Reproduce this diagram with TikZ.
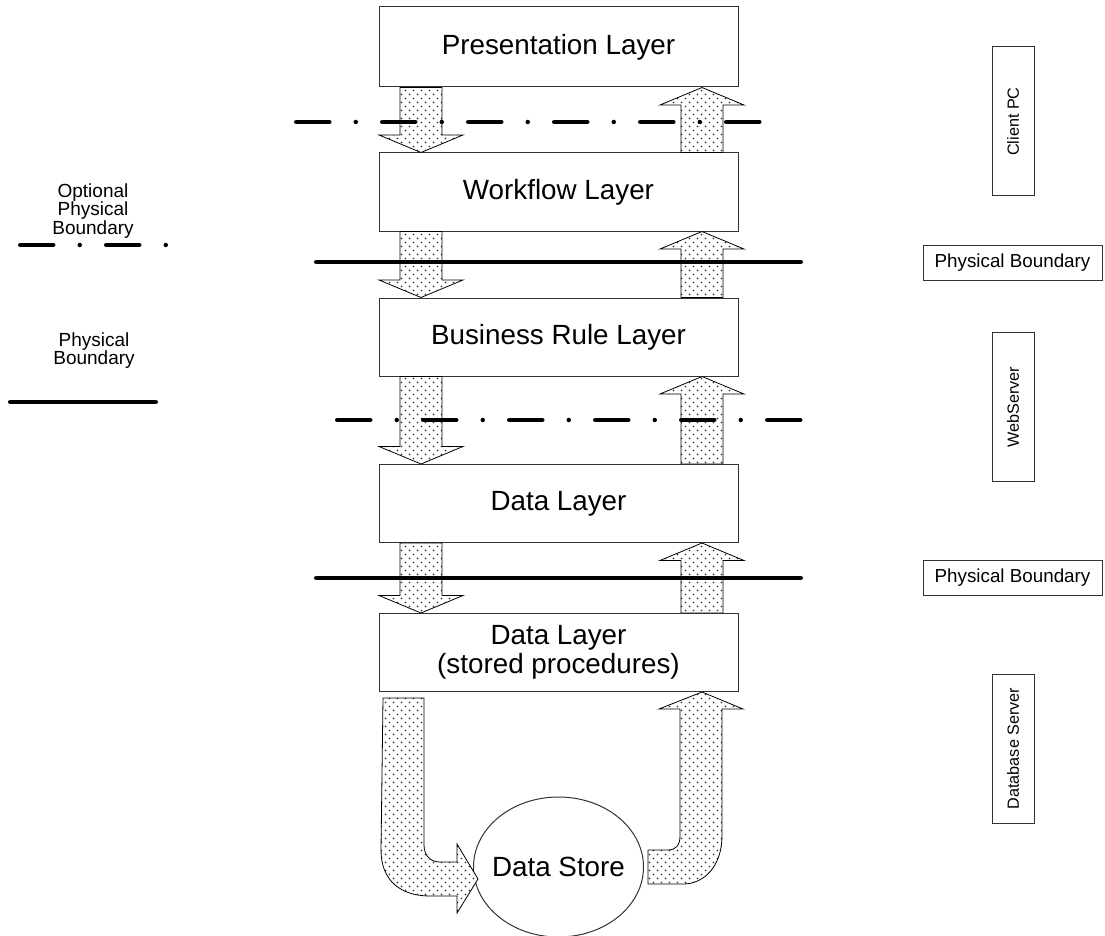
\documentclass[tikz,border=0pt]{standalone}
\usepackage{fontspec}
\setmainfont{Liberation Sans}
\usetikzlibrary{calc,patterns,shapes.geometric}

\pgfdeclarepatternformonly{bdots}{\pgfqpoint{0pt}{0pt}}{\pgfqpoint{7pt}{7pt}}{\pgfqpoint{8pt}{8pt}}{%
  \pgfpathcircle{\pgfqpoint{1.5pt}{1.5pt}}{0.85pt}%
  \pgfpathcircle{\pgfqpoint{5.5pt}{5.5pt}}{0.85pt}%
  \pgfusepath{fill}}

\newcommand{\blkdown}[2]{%
  \path[blk] ($(#1)+(-21,0)$) -- ($(#2)+(-21,-17.5)$) -- ($(#2)+(-42,-17.5)$) -- (#2)
    -- ($(#2)+(42,-17.5)$) -- ($(#2)+(21,-17.5)$) -- ($(#1)+(21,0)$) -- cycle;}
\newcommand{\blkup}[2]{%
  \path[blk] ($(#1)+(-21,0)$) -- ($(#2)+(-21,17.5)$) -- ($(#2)+(-42,17.5)$) -- (#2)
    -- ($(#2)+(42,17.5)$) -- ($(#2)+(21,17.5)$) -- ($(#1)+(21,0)$) -- cycle;}

\begin{document}
\begin{tikzpicture}[x=1pt,y=-1pt,
  layer/.style={draw=black!80, line width=1pt, minimum width=359pt, minimum height=78pt,
    inner sep=0pt, align=center, font=\fontsize{27.8}{30}\selectfont},
  side/.style={draw=black!80, line width=1pt, minimum width=149pt, minimum height=42pt,
    inner sep=0pt, rotate=90, font=\fontsize{16.2}{18}\selectfont},
  pbox/.style={draw=black!80, line width=1pt, minimum width=179pt, minimum height=35pt,
    inner sep=0pt, font=\fontsize{18.8}{20}\selectfont},
  legtext/.style={align=center, inner sep=0pt, font=\fontsize{19}{18.7}\selectfont},
  blk/.style={draw=black, line width=0.8pt, line join=miter, preaction={fill=white},
    pattern=bdots, pattern color=black!85},
  optb/.style={line width=4.5pt, line cap=round, dash pattern=on 33pt off 26.5pt on 0pt off 26.5pt},
  physb/.style={line width=4.5pt, line cap=round}]

\fill[white] (0,0) rectangle (1105,936);
\useasboundingbox (0,0) rectangle (1105,936);

% layer boxes
\node[layer, minimum height=80pt] (pres) at (558.5,47) {Presentation Layer};
\node[layer] (work) at (558.5,192) {Workflow Layer};
\node[layer] (bus) at (558.5,337) {Business Rule Layer};
\node[layer] (data) at (558.5,503.5) {Data Layer};
\node[layer] (sp) at (558.5,652.5) {Data Layer\\[-1pt](stored procedures)};
\node[draw=black!80, line width=1pt, ellipse, minimum width=170pt, minimum height=140pt,
  inner sep=0pt, font=\fontsize{27.8}{30}\selectfont] (store) at (558.5,867) {\makebox[0pt]{Data Store}};

% columns of the block arrows
\coordinate (L) at (421,0);
\coordinate (R) at (702,0);

% down arrows
\coordinate (d1s) at (pres.south -| L); \coordinate (d1t) at (work.north -| L);
\coordinate (d2s) at (work.south -| L); \coordinate (d2t) at (bus.north -| L);
\coordinate (d3s) at (bus.south -| L);  \coordinate (d3t) at (data.north -| L);
\coordinate (d4s) at (data.south -| L); \coordinate (d4t) at (sp.north -| L);
\blkdown{d1s}{d1t}
\blkdown{d2s}{d2t}
\blkdown{d3s}{d3t}
\blkdown{d4s}{d4t}

% up arrows
\coordinate (u1s) at (work.north -| R); \coordinate (u1t) at (pres.south -| R);
\coordinate (u2s) at (bus.north -| R);  \coordinate (u2t) at (work.south -| R);
\coordinate (u3s) at (data.north -| R); \coordinate (u3t) at (bus.south -| R);
\coordinate (u4s) at (sp.north -| R);   \coordinate (u4t) at (data.south -| R);
\blkup{u1s}{u1t}
\blkup{u2s}{u2t}
\blkup{u3s}{u3t}
\blkup{u4s}{u4t}

% bent arrow: stored procedures -> data store
\path[blk] (383,698) -- (381,850) .. controls (381,880) and (400,896) .. (430,896)
  -- (457,896) -- (457,913) -- (478,879) -- (457,844) -- (457,862) -- (440,862)
  .. controls (430,862) and (424,855) .. (424,845) -- (424,698) -- cycle;

% bent arrow: data store -> stored procedures
\path[blk] (648,850) -- (668,850) .. controls (676,850) and (680,845) .. (680,836)
  -- (680,709) -- (659,709) -- (702,692) -- (743,709) -- (722,709) -- (722,836)
  .. controls (722,865) and (705,884) .. (683,884) -- (648,884) -- cycle;

% boundaries
\draw[optb] (296.25,122) -- (759.75,122);
\draw[physb] (316.25,262) -- (800.75,262);
\draw[optb] (337.25,420) -- (802.75,420);
\draw[physb] (316.25,578) -- (800.75,578);

% legend
\node[legtext] (legopt) at (93,211) {Optional\\Physical\\Boundary};
\draw[optb] (20.25,245) -- (167,245);
\node[legtext] (legphys) at (94,350.5) {Physical\\Boundary};
\draw[physb] (10.25,402) -- (155.75,402);

% side labels
\node[side] (client) at (1013,121.5) {Client PC};
\node[pbox] (pb1) at (1012.5,262.5) {Physical Boundary};
\node[side] (web) at (1013,407) {WebServer};
\node[pbox] (pb2) at (1012.5,577.5) {Physical Boundary};
\node[side] (dbs) at (1013,748.5) {Database Server};
\end{tikzpicture}
\end{document}
